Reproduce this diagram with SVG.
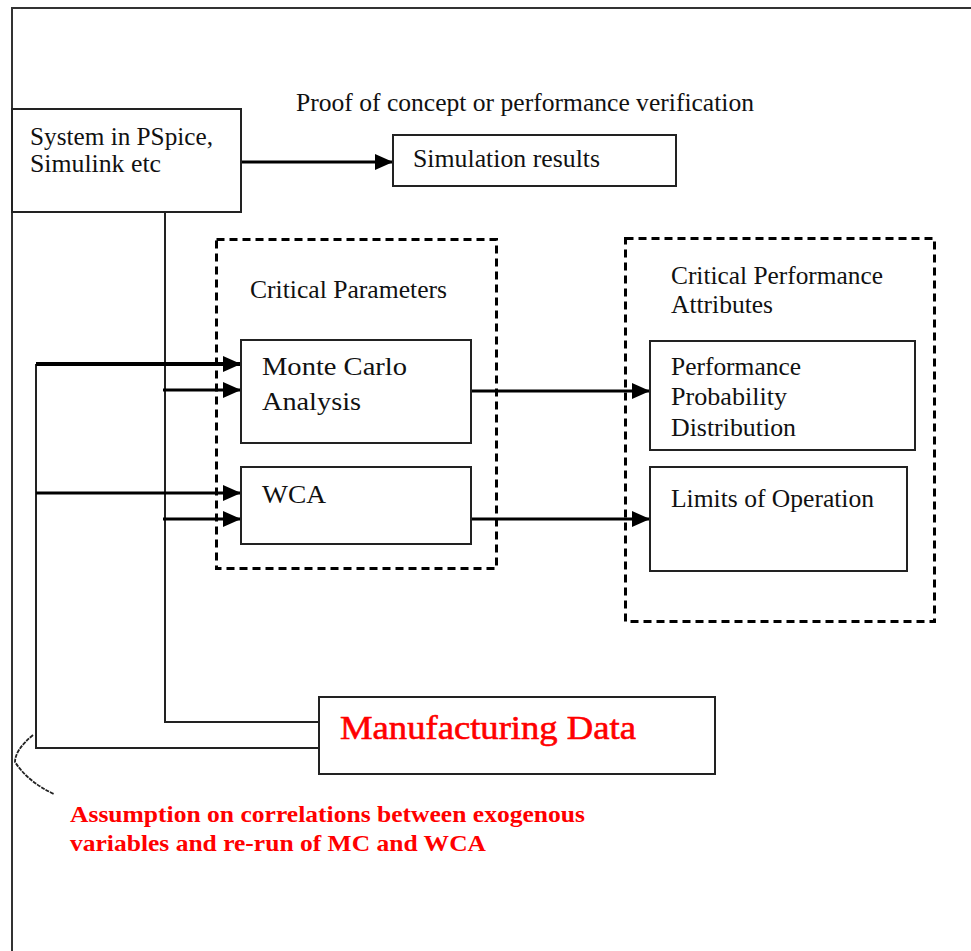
<svg xmlns="http://www.w3.org/2000/svg" width="971" height="951" viewBox="0 0 971 951">
<style>
.t{font-family:"Liberation Serif","Times New Roman",serif;font-size:26px;fill:#111}
.box{fill:#fff;stroke:#222;stroke-width:2}
.dash{fill:none;stroke:#000;stroke-width:3;stroke-dasharray:8,5}
.ln{fill:none;stroke:#222;stroke-width:2}
.ar{fill:none;stroke:#000;stroke-width:3}
.red{font-family:"Liberation Serif","Times New Roman",serif;fill:#ff0000}
</style>
<defs>
<marker id="ah" markerUnits="userSpaceOnUse" markerWidth="18" markerHeight="16" refX="18" refY="8" orient="auto">
<path d="M0,0 L18,8 L0,16 z" fill="#000"/>
</marker>
</defs>
<rect width="971" height="951" fill="#fff"/>
<g id="frame">
<path d="M12,951 V8 H971" fill="none" stroke="#333" stroke-width="2"/>
</g>
<text class="t" x="296" y="111" textLength="458" lengthAdjust="spacingAndGlyphs">Proof of concept or performance verification</text>
<g id="dashedParams">
<rect class="dash" x="216.5" y="239.5" width="280" height="329"/>
<text class="t" x="250" y="298" textLength="197" lengthAdjust="spacingAndGlyphs">Critical Parameters</text>
</g>
<g id="dashedAttrs">
<rect class="dash" x="625.5" y="238.5" width="309" height="383"/>
<text class="t" x="671" y="284" textLength="212" lengthAdjust="spacingAndGlyphs">Critical Performance</text>
<text class="t" x="671" y="313" textLength="102" lengthAdjust="spacingAndGlyphs">Attributes</text>
</g>
<g id="connectors">
<path class="ln" d="M165,212 V722 H319"/>
<path class="ln" d="M36,364 V748 H319"/>
<path class="ar" d="M241,162 H393" marker-end="url(#ah)"/>
<path d="M36,364 H241" fill="none" stroke="#000" stroke-width="4" marker-end="url(#ah)"/>
<path class="ar" d="M163,390 H241" marker-end="url(#ah)"/>
<path class="ar" d="M36,493 H241" marker-end="url(#ah)"/>
<path class="ar" d="M163,519 H241" marker-end="url(#ah)"/>
<path class="ar" d="M471,391 H650" marker-end="url(#ah)"/>
<path class="ar" d="M471,519 H650" marker-end="url(#ah)"/>
<path d="M33,735 Q15,750 15,762 Q28,782 54,794" fill="none" stroke="#222" stroke-width="1.8" stroke-dasharray="4,1"/>
</g>
<g id="system">
<rect class="box" x="12" y="109" width="229" height="103"/>
<text class="t" x="30" y="145" textLength="183" lengthAdjust="spacingAndGlyphs">System in PSpice,</text>
<text class="t" x="30" y="172" textLength="131" lengthAdjust="spacingAndGlyphs">Simulink etc</text>
</g>
<g id="simulation">
<rect class="box" x="393" y="135" width="283" height="51"/>
<text class="t" x="413" y="167" textLength="187" lengthAdjust="spacingAndGlyphs">Simulation results</text>
</g>
<g id="montecarlo">
<rect class="box" x="241" y="340" width="230" height="103"/>
<text class="t" x="262" y="375" textLength="145" lengthAdjust="spacingAndGlyphs">Monte Carlo</text>
<text class="t" x="262" y="410" textLength="99" lengthAdjust="spacingAndGlyphs">Analysis</text>
</g>
<g id="wca">
<rect class="box" x="241" y="467" width="230" height="77"/>
<text class="t" x="262" y="503" textLength="64" lengthAdjust="spacingAndGlyphs">WCA</text>
</g>
<g id="ppd">
<rect class="box" x="650" y="341" width="265" height="109"/>
<text class="t" x="671" y="375" textLength="130" lengthAdjust="spacingAndGlyphs">Performance</text>
<text class="t" x="671" y="405" textLength="116" lengthAdjust="spacingAndGlyphs">Probability</text>
<text class="t" x="671" y="436" textLength="125" lengthAdjust="spacingAndGlyphs">Distribution</text>
</g>
<g id="limits">
<rect class="box" x="650" y="467" width="257" height="104"/>
<text class="t" x="671" y="507" textLength="203" lengthAdjust="spacingAndGlyphs">Limits of Operation</text>
</g>
<g id="manufacturing">
<rect class="box" x="319" y="697" width="396" height="77"/>
<text class="red" x="340" y="739" font-size="34" textLength="296" lengthAdjust="spacingAndGlyphs" stroke="#ff0000" stroke-width="0.6">Manufacturing Data</text>
</g>
<g id="assumption">
<text class="red" x="70" y="822" font-size="23" font-weight="bold" textLength="515" lengthAdjust="spacingAndGlyphs">Assumption on correlations between exogenous</text>
<text class="red" x="70" y="851" font-size="23" font-weight="bold" textLength="416" lengthAdjust="spacingAndGlyphs">variables and re-run of MC and WCA</text>
</g>
</svg>
